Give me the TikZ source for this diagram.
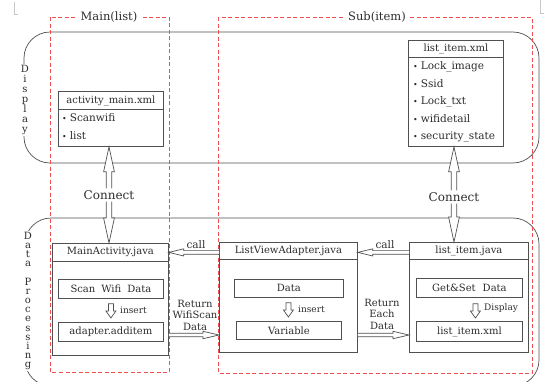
\documentclass[tikz,border=0pt]{standalone}
\usepackage{fontspec}
\setmainfont{DejaVu Serif}
\usepackage{graphicx}
\usetikzlibrary{calc}
\definecolor{zred}{RGB}{238,80,80}
\definecolor{lcol}{RGB}{80,80,80}
\definecolor{tcol}{RGB}{45,45,45}
\definecolor{mcol}{RGB}{200,200,200}
\newcommand{\fs}[1]{\fontsize{#1}{#1}\selectfont}
\newcommand{\bul}{\raisebox{0.1ex}{\scalebox{0.75}{\textbullet}}\hspace{3pt}}
% open-tailed hollow arrow: #1 shaft half width, #2 head half width, #3 head length, #4 start, #5 end
\newcommand{\hollowarrow}[5]{%
  \path ($(#5)!#3!(#4)$) coordinate (hbase);
  \filldraw[hol] ($(#4)!#1!90:(#5)$) -- ($(hbase)!#1!90:(#5)$) -- ($(hbase)!#2!90:(#5)$) -- (#5) -- ($(hbase)!#2!-90:(#5)$) -- ($(hbase)!#1!-90:(#5)$) -- ($(#4)!#1!-90:(#5)$);
}
% closed hollow arrow
\newcommand{\closedarrow}[5]{%
  \path ($(#5)!#3!(#4)$) coordinate (hbase);
  \filldraw[hol] ($(#4)!#1!90:(#5)$) -- ($(hbase)!#1!90:(#5)$) -- ($(hbase)!#2!90:(#5)$) -- (#5) -- ($(hbase)!#2!-90:(#5)$) -- ($(hbase)!#1!-90:(#5)$) -- ($(#4)!#1!-90:(#5)$) -- cycle;
}
\begin{document}
\begin{tikzpicture}[x=1pt,y=-1pt, font=\fs{10}, text=tcol,
  region/.style={draw=lcol, line width=0.7pt, rounded corners=26pt},
  zone/.style={draw=zred, line width=0.7pt, dash pattern=on 4pt off 2.5pt},
  box/.style={draw=lcol, line width=0.8pt, fill=white, inner sep=0pt, anchor=north west},
  hdr/.style={draw=lcol, line width=0.8pt, inner sep=0pt, anchor=north west, font=\fs{10}},
  item/.style={anchor=west, inner sep=0pt, font=\fs{10.5}},
  lbl/.style={inner sep=1pt, font=\fs{10}},
  hol/.style={draw=lcol, line width=0.7pt, fill=white, line join=miter},
  title/.style={fill=white, inner sep=3pt, font=\fs{11.5}},
  vtext/.style={fill=white, inner sep=1pt, align=center}
]
\useasboundingbox (0,0) rectangle (544,381);

% page corner marks
\draw[mcol, line width=0.5pt] (14,2) -- (14,14) -- (18,14);
\draw[mcol, line width=0.5pt] (540,0) -- (540,13) -- (544,13);

% regions
\draw[region] (24,32) rectangle (539,163);
\draw[region] (25,218) rectangle (539,386);
\node[vtext, font=\fontsize{10}{10}\selectfont] (disp) at (25,100) {D\\i\\s\\p\\l\\a\\y};
\node[vtext, font=\fontsize{10}{9.2}\selectfont] (dproc) at (28,301) {D\\a\\t\\a\\~\\P\\r\\o\\c\\e\\s\\s\\i\\n\\g};

% zones
\draw[zone] (50,17) rectangle (169,372);
\draw[zone] (218,17) rectangle (532,373);
\node[title] (tmain) at (109,17) {Main(list)};
\node[title] (tsub) at (377,17) {Sub(item)};

% activity_main.xml
\node[box, minimum width=105pt, minimum height=55pt] (amx) at (58,91) {};
\node[hdr, minimum width=105pt, minimum height=18pt] (amxh) at (amx.north west) {activity\_main.xml};
\node[item] (amx1) at (62,118) {\bul Scanwifi};
\node[item] (amx2) at (62,136) {\bul list};

% list_item.xml
\node[box, minimum width=95pt, minimum height=106pt] (lix) at (408,40) {};
\node[hdr, minimum width=95pt, minimum height=17pt] (lixh) at (lix.north west) {list\_item.xml};
\node[item] (lix1) at (413,67) {\bul Lock\_image};
\node[item] (lix2) at (413,84) {\bul Ssid};
\node[item] (lix3) at (413,102) {\bul Lock\_txt};
\node[item] (lix4) at (413,119) {\bul wifidetail};
\node[item] (lix5) at (413,137) {\bul security\_state};

% MainActivity.java
\node[box, minimum width=116pt, minimum height=112pt] (ma) at (52,243) {};
\node[hdr, minimum width=116pt, minimum height=18pt] (mah) at (ma.north west) {MainActivity.java};
\node[box, minimum width=105pt, minimum height=19pt] (scan) at (58,279) {Scan\hspace{6pt}Wifi\hspace{6pt}Data};
\node[box, minimum width=105pt, minimum height=19pt] (addi) at (58,322) {adapter.additem};

% ListViewAdapter.java
\node[box, minimum width=138pt, minimum height=110pt] (lva) at (219,242) {};
\node[hdr, minimum width=138pt, minimum height=17pt] (lvah) at (lva.north west) {ListViewAdapter.java};
\node[box, minimum width=109pt, minimum height=18pt] (data) at (234,279) {Data};
\node[box, minimum width=105pt, minimum height=18pt] (var) at (236,321) {Variable};

% list_item.java
\node[box, minimum width=119pt, minimum height=110pt] (lij) at (409,242) {};
\node[hdr, minimum width=119pt, minimum height=17pt] (lijh) at (lij.north west) {list\_item.java};
\node[box, minimum width=106pt, minimum height=19pt] (gs) at (416,278) {Get\&Set\hspace{7pt}Data};
\node[box, minimum width=106pt, minimum height=20pt] (lix2b) at (416,321) {list\_item.xml};

% small inner arrows
\coordinate (i1s) at ($(scan.south)+(0,5)$);
\coordinate (i1e) at ($(addi.north)+(0,-4)$);
\closedarrow{2.5pt}{5pt}{7pt}{i1s}{i1e}
\node[lbl, anchor=west, font=\fs{9}] (ins1) at (119,310) {insert};

\coordinate (i2s) at ($(data.south)+(-0.5,5)$);
\coordinate (i2e) at ($(var.north)+(-0.5,-4)$);
\closedarrow{2.5pt}{5pt}{7pt}{i2s}{i2e}
\node[lbl, anchor=west, font=\fs{9}] (ins2) at (297,309) {insert};

\coordinate (i3s) at ($(gs.south)+(6,6)$);
\coordinate (i3e) at ($(lix2b.north)+(6,-3)$);
\closedarrow{2.5pt}{5pt}{7pt}{i3s}{i3e}
\node[lbl, anchor=west, font=\fs{9}] (disl) at (483,308) {Display};

% Connect arrows
\node[lbl, font=\fs{12}, inner sep=2pt] (cm) at (109,195) {Connect};
\coordinate (cmu) at (cm.north |- amx.south);
\coordinate (cmd) at (cm.south |- ma.north);
\hollowarrow{2.8pt}{5.4pt}{25pt}{cm.north}{cmu}
\hollowarrow{2.8pt}{5.4pt}{25pt}{cm.south}{cmd}

\node[lbl, font=\fs{12}, inner sep=2pt] (cs) at (454,197) {Connect};
\coordinate (csu) at (cs.north |- lix.south);
\coordinate (csd) at (cs.south |- lij.north);
\hollowarrow{2.8pt}{5.4pt}{25pt}{cs.north}{csu}
\hollowarrow{2.8pt}{5.4pt}{25pt}{cs.south}{csd}

% call arrows
\coordinate (c1s) at (mah.east -| lva.west);
\hollowarrow{1.8pt}{3.6pt}{15pt}{c1s}{mah.east}
\node[lbl, font=\fs{10.5}] (call1) at (196,245) {call};
\coordinate (c2s) at (mah.east -| lij.west);
\coordinate (c2e) at (mah.east -| lva.east);
\hollowarrow{1.8pt}{3.6pt}{15pt}{c2s}{c2e}
\node[lbl, font=\fs{10.5}] (call2) at (385,245) {call};

% return arrows
\coordinate (rety) at (0,335);
\coordinate (r1s) at (ma.east |- rety);
\coordinate (r1e) at (lva.west |- rety);
\hollowarrow{1.7pt}{3.7pt}{16pt}{r1s}{r1e}
\node[lbl, align=center, font=\fontsize{10}{11.5}\selectfont] (ret1) at (195,315) {Return\\WifiScan\\Data};
\coordinate (r2s) at (lva.east |- rety);
\coordinate (r2e) at (lij.west |- rety);
\hollowarrow{1.7pt}{3.7pt}{16pt}{r2s}{r2e}
\node[lbl, align=center, font=\fontsize{10}{11.5}\selectfont] (ret2) at (382,314) {Return\\Each\\Data};
\end{tikzpicture}
\end{document}
